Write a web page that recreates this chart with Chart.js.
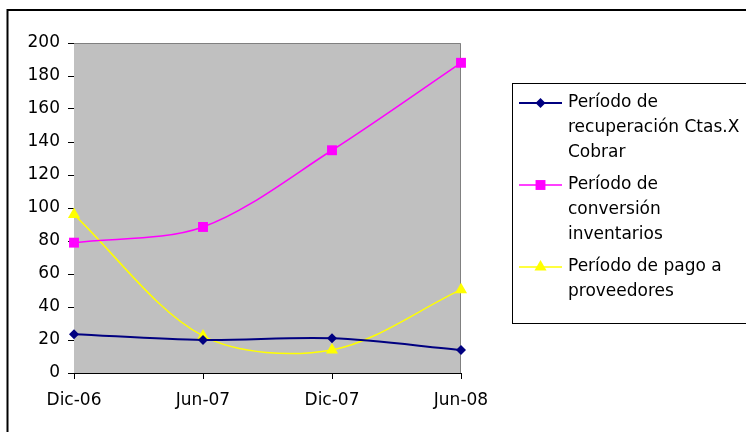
<!DOCTYPE html>
<html>
<head>
<meta charset="utf-8">
<script src="https://cdn.jsdelivr.net/npm/chart.js@4/dist/chart.umd.min.js"></script>
<style>
  html, body { margin: 0; padding: 0; background: #ffffff; }
  #wrap { width: 746px; height: 432px; position: relative; }
</style>
</head>
<body>
<div id="wrap"><canvas id="chart"></canvas></div>
<script>
// Periodos semestrales
const periods = ['Dic-06', 'Jun-07', 'Dic-07', 'Jun-08'];

// Días de cada indicador por periodo
const cobrarDays = [23.5, 20, 21, 14];
const inventarioDays = [79, 88.5, 135, 188];
const pagoDays = [96, 22.5, 14, 50.5];

// Nombres de las series (en líneas, como en la leyenda)
const cobrarName = ['Período de', 'recuperación Ctas.X', 'Cobrar'];
const inventarioName = ['Período de', 'conversión', 'inventarios'];
const pagoName = ['Período de pago a', 'proveedores'];

// Escala vertical
const yMin = 0;
const yMax = 200;
const yStep = 20;

const FONT = 'DejaVu Sans, Verdana, sans-serif';
const FONT_SIZE = 17;

function marker(ctx, style, x, y, r) {
  ctx.beginPath();
  if (style === 'rectRot') {
    ctx.moveTo(x, y - r); ctx.lineTo(x + r, y); ctx.lineTo(x, y + r); ctx.lineTo(x - r, y);
  } else if (style === 'rect') {
    const s = r * Math.SQRT1_2;
    ctx.rect(x - s, y - s, 2 * s, 2 * s);
  } else {
    ctx.moveTo(x, y - r);
    ctx.lineTo(x + r * Math.sin(2 * Math.PI / 3), y - r * Math.cos(2 * Math.PI / 3));
    ctx.lineTo(x + r * Math.sin(4 * Math.PI / 3), y - r * Math.cos(4 * Math.PI / 3));
  }
  ctx.closePath();
  ctx.fill();
}

// Fondo gris del área de trazado, marco exterior y leyenda
const frameAndLegend = {
  id: 'frameAndLegend',
  beforeDatasetsDraw(chart) {
    const { ctx, chartArea: a } = chart;
    ctx.save();
    ctx.fillStyle = '#c0c0c0';
    ctx.fillRect(a.left, a.top, a.right - a.left, a.bottom - a.top);
    ctx.strokeStyle = '#808080';
    ctx.lineWidth = 1;
    ctx.beginPath();
    ctx.moveTo(a.left, a.top + 0.5);
    ctx.lineTo(a.right - 0.5, a.top + 0.5);
    ctx.lineTo(a.right - 0.5, a.bottom);
    ctx.stroke();
    ctx.restore();
  },
  afterDraw(chart) {
    const { ctx } = chart;
    ctx.save();
    // marco exterior
    ctx.strokeStyle = '#000000';
    ctx.lineWidth = 2;
    ctx.strokeRect(7.5, 10, 900, 900);
    // caja de la leyenda
    ctx.lineWidth = 1;
    ctx.strokeRect(512.5, 83.5, 400, 240);
    ctx.font = FONT_SIZE + 'px ' + FONT;
    ctx.textBaseline = 'alphabetic';
    ctx.textAlign = 'left';
    let baseline = 107;
    chart.data.datasets.forEach(ds => {
      const ly = baseline - 4;
      ctx.strokeStyle = ds.borderColor;
      ctx.lineWidth = ds.borderWidth;
      ctx.beginPath();
      ctx.moveTo(519, ly);
      ctx.lineTo(562, ly);
      ctx.stroke();
      ctx.fillStyle = ds.pointBackgroundColor;
      marker(ctx, ds.pointStyle, 540.5, ly, ds.pointRadius);
      ctx.fillStyle = '#000000';
      ds.nameLines.forEach((t, i) => ctx.fillText(t, 568, baseline + i * 25));
      baseline += (ds.nameLines.length - 1) * 25 + 32;
    });
    ctx.restore();
  }
};

new Chart(document.getElementById('chart'), {
  type: 'line',
  data: {
    labels: periods,
    datasets: [
      {
        label: cobrarName.join(' '), nameLines: cobrarName, data: cobrarDays,
        borderColor: '#000080', backgroundColor: '#000080', pointBackgroundColor: '#000080',
        borderWidth: 2, pointStyle: 'rectRot', pointRadius: 5, pointBorderWidth: 0
      },
      {
        label: inventarioName.join(' '), nameLines: inventarioName, data: inventarioDays,
        borderColor: '#ff00ff', backgroundColor: '#ff00ff', pointBackgroundColor: '#ff00ff',
        borderWidth: 1.5, pointStyle: 'rect', pointRadius: 7, pointBorderWidth: 0
      },
      {
        label: pagoName.join(' '), nameLines: pagoName, data: pagoDays,
        borderColor: '#ffff00', backgroundColor: '#ffff00', pointBackgroundColor: '#ffff00',
        borderWidth: 1.5, pointStyle: 'triangle', pointRadius: 7, pointBorderWidth: 0
      }
    ]
  },
  options: {
    responsive: true,
    maintainAspectRatio: false,
    animation: false,
    devicePixelRatio: 1,
    elements: { line: { tension: 0.32 } },
    layout: { padding: { left: 0, top: 43, right: 285, bottom: 0 } },
    plugins: { legend: { display: false }, tooltip: { enabled: false } },
    scales: {
      x: {
        type: 'category',
        offset: false,
        grid: { drawOnChartArea: false, drawTicks: true, tickLength: 6, color: '#000000' },
        border: { color: '#000000', width: 1 },
        ticks: { color: '#000000', font: { family: FONT, size: FONT_SIZE }, padding: 11, maxRotation: 0, autoSkip: false },
        afterFit(s) { s.height = 59; }
      },
      y: {
        min: yMin, max: yMax,
        grid: { drawOnChartArea: false, drawTicks: true, tickLength: 6, color: '#000000' },
        border: { color: '#000000', width: 1 },
        ticks: { stepSize: yStep, color: '#000000', font: { family: FONT, size: FONT_SIZE }, padding: 8 },
        afterFit(s) { s.width = 74; }
      }
    }
  },
  plugins: [frameAndLegend]
});
</script>
</body>
</html>
